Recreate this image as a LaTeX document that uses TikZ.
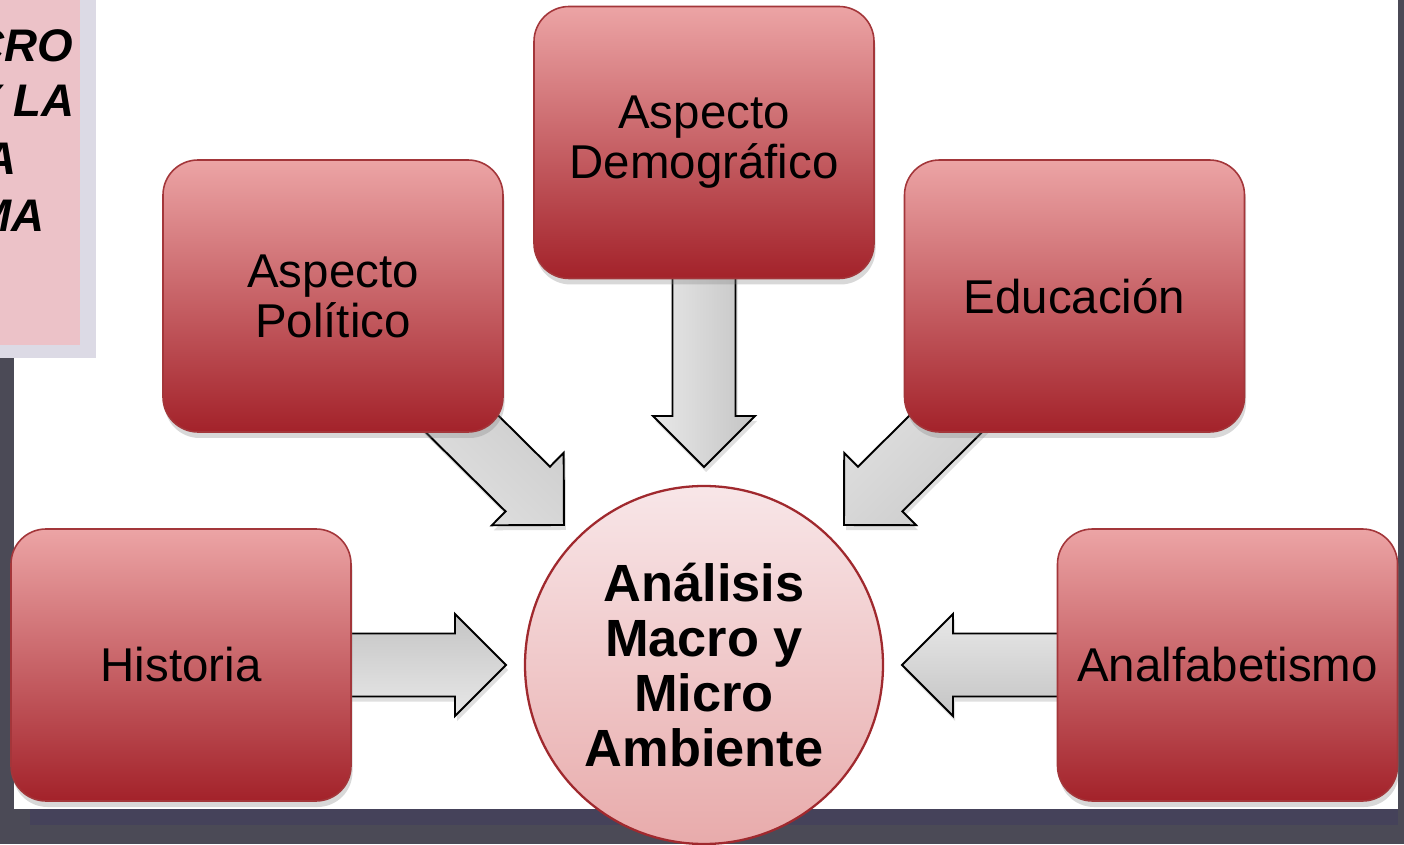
\documentclass[tikz,border=0pt]{standalone}
\usepackage{fontspec}
\setmainfont{Liberation Sans}
\usetikzlibrary{calc,shadows}

\definecolor{slate}{HTML}{4B4A56}
\definecolor{slateband}{HTML}{45425A}
\definecolor{notepink}{HTML}{ECC2C8}
\definecolor{noteframe}{HTML}{DCDAE5}
\definecolor{boxtop}{HTML}{ECA4A5}
\definecolor{boxmid}{HTML}{C46E72}
\definecolor{boxbot}{HTML}{A3222A}
\definecolor{boxedge}{HTML}{A3363A}
\definecolor{hubtop}{HTML}{F8E6E8}
\definecolor{hubbot}{HTML}{E8ABAB}
\definecolor{hubedge}{HTML}{A0292E}
\definecolor{arrowlight}{HTML}{E8E8E8}
\definecolor{arrowdark}{HTML}{C4C4C4}

\tikzstyle{topic} = [rectangle, rounded corners=0.7cm, minimum width=6.8cm, minimum height=5.44cm, text centered, align=center, draw=boxedge, line width=0.9pt, top color=boxtop, middle color=boxmid, bottom color=boxbot, font=\fontsize{27}{28.5}\selectfont, drop shadow={opacity=0.3, shadow xshift=0.03cm, shadow yshift=-0.12cm}]
\tikzstyle{hub} = [circle, minimum size=7.16cm, inner sep=0pt, align=center, draw=hubedge, line width=1.3pt, top color=hubtop, bottom color=hubbot, font=\bfseries\fontsize{29.8}{31.3}\selectfont]
\tikzstyle{note} = [inner sep=0pt, font=\bfseries\itshape\fontsize{26}{30}\selectfont]
\tikzstyle{flow} = [draw=black, line width=1.1pt, line join=miter, top color=arrowdark, bottom color=arrowlight, drop shadow={opacity=0.25, shadow xshift=0.04cm, shadow yshift=-0.1cm}]

% block arrow sizes
\newcommand{\shaftw}{0.63cm}
\newcommand{\headw}{1.02cm}
\newcommand{\headl}{1.02cm}
% block arrow from #1 to the tip #2, shading turns with the arrow
\newcommand{\blockarrow}[2]{%
  \pgfmathanglebetweenpoints{\pgfpointanchor{#1}{center}}{\pgfpointanchor{#2}{center}}%
  \let\flowangle\pgfmathresult
  \path[flow, shading angle=\flowangle] let \p1=($(#2)-(#1)$), \n2={veclen(\x1,\y1)} in
    [shift={(#1)}, rotate=\flowangle]
    (0,-\shaftw) -- ({\n2-\headl},-\shaftw) -- ({\n2-\headl},-\headw) -- (\n2,0)
    -- ({\n2-\headl},\headw) -- ({\n2-\headl},\shaftw) -- (0,\shaftw) -- cycle;
}

\pgfdeclarelayer{backdrop}
\pgfdeclarelayer{links}
\pgfsetlayers{backdrop,links,main}

\begin{document}
\begin{tikzpicture}
    \useasboundingbox (0,0) rectangle (28.08,16.88);
    \clip (0,0) rectangle (28.08,16.88);

    % slide background and the cut-off title note
    \begin{pgfonlayer}{backdrop}
        \fill[slate] (0,0) rectangle (28.08,16.88);
        \fill[slateband] (0.6,0.38) rectangle (27.96,0.7);
        \fill[white] (0.28,0.7) rectangle (27.96,16.88);
        \fill[noteframe] (0,9.72) rectangle (1.92,16.88);
        \fill[notepink] (0,9.98) rectangle (1.6,16.88);
    \end{pgfonlayer}
    \node (noteA) [note, anchor=base east] at (1.46,15.64) {CRO};
    \node (noteB) [note, anchor=base east] at (1.50,14.54) {Y LA};
    \node (noteC) [note, anchor=base east] at (0.34,13.38) {A};
    \node (noteD) [note, anchor=base east] at (0.90,12.24) {MA};

    % diagram
    \node (hub) [hub] at (14.08,3.58) {Análisis\\Macro y\\Micro\\Ambiente};
    \node (demo) [topic] at (14.08,14.03) {Aspecto\\Demográfico};
    \node (pol) [topic] at (6.66,10.96) {Aspecto\\Político};
    \node (edu) [topic] at (21.49,10.96) {Educación};
    \node (hist) [topic] at (3.62,3.58) {Historia};
    \node (analf) [topic] at (24.55,3.58) {Analfabetismo};

    \coordinate (tipDemo) at ($(hub)+(90:3.96)$);
    \coordinate (tipPol) at ($(hub)+(135:3.96)$);
    \coordinate (tipEdu) at ($(hub)+(45:3.96)$);
    \coordinate (tipHist) at ($(hub)+(180:3.96)$);
    \coordinate (tipAnalf) at ($(hub)+(0:3.96)$);

    \begin{pgfonlayer}{links}
        \blockarrow{demo}{tipDemo}
        \blockarrow{pol}{tipPol}
        \blockarrow{edu}{tipEdu}
        \blockarrow{hist}{tipHist}
        \blockarrow{analf}{tipAnalf}
    \end{pgfonlayer}
\end{tikzpicture}
\end{document}
